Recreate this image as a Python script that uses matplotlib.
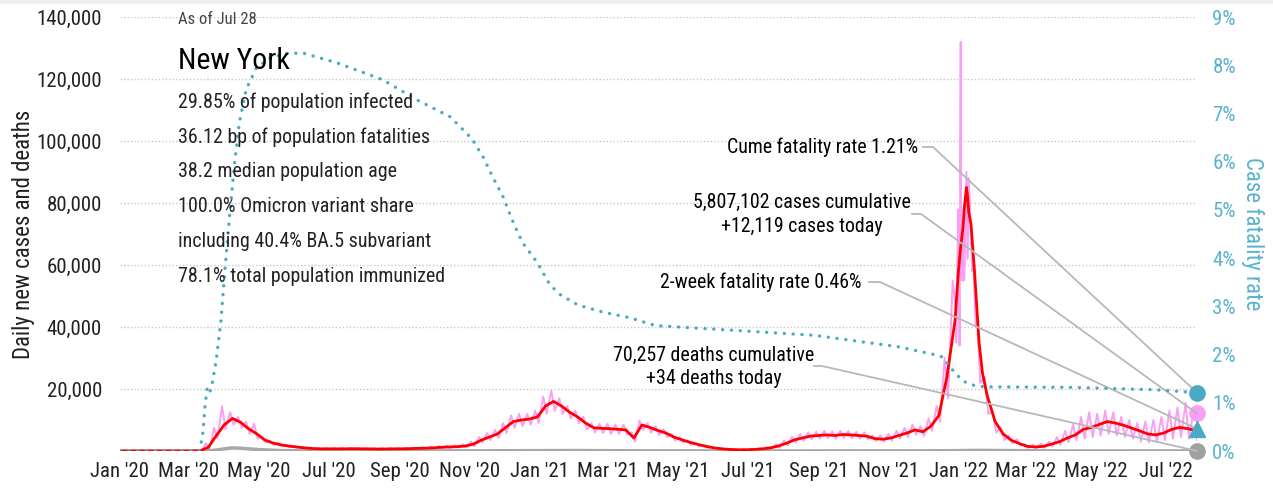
import numpy as np
import pandas as pd
import matplotlib
matplotlib.use("Agg")
import matplotlib.pyplot as plt
import matplotlib.dates as mdates
from matplotlib import font_manager as fm
from matplotlib.ticker import FuncFormatter, MultipleLocator
from matplotlib.lines import Line2D
from matplotlib.patches import Rectangle
from matplotlib.transforms import IdentityTransform

# fuente angosta: la primera que este instalada
instaladas = {f.name for f in fm.fontManager.ttflist}
candidatas = ['Roboto Condensed', 'Archivo Narrow', 'PT Sans Narrow', 'Liberation Sans Narrow',
              'IBM Plex Sans Condensed', 'Open Sans Condensed']
fuente = next((c for c in candidatas if c in instaladas), 'DejaVu Sans')
plt.rcParams['font.family'] = [fuente, 'DejaVu Sans']

# fechas semanales desde el 1 de enero de 2020
inicio = pd.Timestamp('2020-01-01')
semanas = pd.date_range(inicio, periods=135, freq='7D')

# promedio de 7 dias de casos (miles), uno por semana
casos_prom = [0, 0, 0, 0, 0, 0, 0, 0, 0, 0,
              0.1, 1.2, 5.0, 8.5, 10.5, 9.3, 7.2, 5.6, 3.6, 2.6, 2.0, 1.6, 1.3, 1.0, 0.8, 0.7,
              0.7, 0.7, 0.7, 0.75, 0.7, 0.7, 0.65, 0.65, 0.7, 0.7, 0.75, 0.85, 0.9,
              1.0, 1.2, 1.3, 1.4, 1.6, 2.2, 3.5, 4.5, 5.5, 7.5, 9.5, 10.0, 10.3, 11.0,
              14.5, 16.0, 14.5, 12.5, 11.0, 9.0, 7.5, 7.3, 7.2, 7.0, 6.8,
              4.2, 8.4, 7.6, 6.6, 5.8, 4.5, 3.6, 2.8, 2.1, 1.5, 1.0, 0.7, 0.5, 0.4, 0.4, 0.5, 0.7, 1.0,
              1.6, 2.5, 3.6, 4.2, 4.8, 5.0, 5.2, 5.0, 5.3, 5.2, 5.0, 4.8, 4.0, 3.8, 4.2, 5.0, 5.8, 6.8, 6.2,
              8.0, 11.5, 24.0, 42.0, 72.0, 73.0, 35.0, 18.0, 9.5, 5.5,
              3.5, 2.4, 1.5, 1.3, 1.5, 2.2, 3.0, 4.2, 5.2, 7.0, 7.6, 8.6, 9.5, 9.0, 8.3, 7.4,
              6.5, 5.5, 5.2, 5.8, 7.0, 7.6, 7.2, 6.6]

# puntos extra del pico de enero 2022 (dias desde inicio, miles)
pico_dia = [731, 733, 736, 738, 739, 740, 745, 752]
pico_prom = [58, 66, 78, 85, 82, 77, 58, 25]

# casos diarios: maximo y minimo de cada semana (miles)
diario_alto = [0, 0, 0, 0, 0, 0, 0, 0, 0, 0,
               0.3, 2.5, 7.5, 14.5, 12.5, 11.0, 9.5, 8.8, 4.5, 3.3, 2.6, 2.0, 1.6, 1.3, 1.1, 0.9,
               0.9, 0.9, 0.95, 0.9, 0.9, 0.85, 0.85, 0.9, 0.95, 1.0, 1.0, 1.1, 1.2,
               1.4, 1.6, 1.7, 1.8, 2.2, 3.0, 4.5, 5.8, 6.8, 9.0, 11.5, 12.0, 12.0, 13.0,
               17.5, 19.5, 17.0, 14.5, 13.0, 11.0, 9.0, 8.8, 8.8, 8.5, 8.5,
               6.0, 9.8, 9.0, 8.0, 7.0, 5.5, 4.5, 3.5, 2.6, 1.9, 1.3, 0.9, 0.7, 0.55, 0.55, 0.7, 0.9, 1.3,
               2.2, 3.4, 4.6, 5.5, 6.0, 6.2, 6.5, 6.3, 6.5, 6.4, 6.2, 6.0, 5.0, 5.0, 5.5, 6.5, 7.5, 8.5, 8.0,
               10.5, 14.5, 30.0, 55.0, 90.0, 88.0, 45.0, 24.0, 12.5, 7.5,
               5.0, 3.8, 2.2, 2.0, 2.3, 3.0, 4.5, 6.5, 8.5, 11.0, 12.5, 12.0, 13.0, 12.5, 11.0, 10.0,
               9.0, 9.5, 10.0, 11.0, 13.0, 14.0, 15.5, 13.0]
diario_bajo = [0, 0, 0, 0, 0, 0, 0, 0, 0, 0,
               0.0, 0.5, 4.0, 7.0, 8.5, 7.5, 5.5, 4.0, 2.8, 2.0, 1.5, 1.2, 1.0, 0.8, 0.6, 0.55,
               0.5, 0.55, 0.55, 0.5, 0.5, 0.5, 0.45, 0.5, 0.5, 0.55, 0.6, 0.65, 0.7,
               0.8, 0.9, 1.0, 1.1, 1.2, 1.6, 2.7, 3.5, 4.2, 5.8, 7.5, 8.0, 8.5, 9.0,
               12.0, 13.0, 12.0, 10.5, 9.0, 7.0, 6.0, 5.8, 5.6, 5.5, 5.3,
               3.0, 6.8, 6.0, 5.2, 4.5, 3.4, 2.7, 2.0, 1.5, 1.1, 0.7, 0.5, 0.35, 0.3, 0.3, 0.35, 0.5, 0.7,
               1.1, 1.8, 2.7, 3.3, 3.8, 4.0, 4.2, 4.0, 4.2, 4.1, 4.0, 3.8, 3.2, 3.0, 3.3, 4.0, 4.5, 5.3, 4.8,
               6.5, 9.5, 17.0, 35.0, 55.0, 58.0, 22.0, 12.0, 6.0, 3.5,
               2.5, 1.8, 1.0, 0.9, 1.0, 1.5, 2.0, 2.8, 3.5, 4.0, 4.5, 5.0, 5.5, 5.0, 4.5, 4.0,
               3.0, 2.8, 3.0, 3.5, 4.0, 4.5, 4.0, 3.5]
# picos diarios de enero 2022 (dias desde inicio, miles)
salto_dia = [729, 730, 731, 732, 733, 734, 736, 738, 739, 741, 744, 746]
salto_val = [45, 60, 78, 34, 132, 55, 70, 90, 62, 80, 60, 40]

# muertes diarias (miles), una por semana
muertes = [0, 0, 0, 0, 0, 0, 0, 0, 0, 0, 0,
           0.05, 0.3, 0.7, 1.0, 0.9, 0.7, 0.5, 0.35, 0.25, 0.15, 0.1, 0.08, 0.06, 0.05, 0.04,
           0.03, 0.03, 0.03, 0.03, 0.03, 0.03, 0.03, 0.03, 0.03, 0.03, 0.03, 0.03, 0.03,
           0.03, 0.03, 0.03, 0.03, 0.04, 0.05, 0.06, 0.07, 0.08, 0.1, 0.12, 0.13, 0.14, 0.15,
           0.17, 0.18, 0.18, 0.17, 0.15, 0.13, 0.11, 0.1, 0.09, 0.08, 0.07,
           0.06, 0.06, 0.06, 0.06, 0.05, 0.05, 0.04, 0.03, 0.03, 0.02, 0.02, 0.01, 0.01, 0.01, 0.01, 0.01, 0.01, 0.01,
           0.02, 0.02, 0.03, 0.03, 0.04, 0.04, 0.04, 0.04, 0.04, 0.04, 0.04, 0.04, 0.03, 0.03, 0.03, 0.04, 0.04, 0.05, 0.05,
           0.06, 0.07, 0.08, 0.1, 0.15, 0.18, 0.2, 0.18, 0.15, 0.12,
           0.09, 0.07, 0.05, 0.04, 0.03, 0.02, 0.02, 0.02, 0.02, 0.02, 0.03, 0.03, 0.03, 0.03, 0.03, 0.03,
           0.03, 0.03, 0.03, 0.03, 0.03, 0.03, 0.03, 0.03]

# tasa de letalidad acumulada (%), dias desde inicio
cfr_dia = [0, 69, 72, 74, 76, 78, 80, 84, 88, 92, 96, 100, 104, 110, 119, 131, 146, 160,
           189, 229, 259, 288, 307, 317, 325, 334, 343, 351, 364, 375, 384, 399, 421, 445,
           467, 530, 605, 679, 710, 717, 722, 728, 735, 743, 754, 829, 903, 939]
cfr_pct = [0, 0, 0.3, 0.9, 1.3, 1.2, 1.35, 1.9, 2.7, 3.9, 5.0, 6.0, 6.8, 7.5, 7.95, 8.15, 8.25, 8.25,
           8.05, 7.7, 7.28, 6.93, 6.47, 6.08, 5.68, 5.27, 4.73, 4.32, 3.9, 3.44, 3.24, 3.03, 2.88, 2.76,
           2.6, 2.51, 2.4, 2.16, 2.0, 1.95, 1.8, 1.62, 1.45, 1.37, 1.33, 1.32, 1.27, 1.21]

fecha_fin = pd.Timestamp('2022-07-28')
casos_hoy = 12119
muertes_hoy = 34
cfr_total = 1.21
cfr_2sem = 0.46

resumen = ["29.85% of population infected",
           "36.12 bp of population fatalities",
           "38.2 median population age",
           "100.0% Omicron variant share",
           "including 40.4% BA.5 subvariant",
           "78.1% total population immunized"]

# armar series
dias_sem = (semanas - inicio).days.values
prom = pd.Series(list(np.array(casos_prom) * 1000) + [v * 1000 for v in pico_prom],
                 index=list(dias_sem) + pico_dia).sort_index()
diario = pd.Series(list(np.array(diario_alto) * 1000) + list(np.array(diario_bajo) * 1000)
                   + [v * 1000 for v in salto_val] + [casos_hoy],
                   index=list(dias_sem - 2) + list(dias_sem + 1) + salto_dia + [939]).sort_index()
diario = diario[diario.index >= 0]

def a_fecha(d):
    return inicio + pd.to_timedelta(np.asarray(d), unit='D')

W, H = 1273, 491
fig = plt.figure(figsize=(W / 100, H / 100), dpi=100)
fig.patches.append(Rectangle((0, 1 - 3 / H), 1, 3 / H, transform=fig.transFigure,
                             color='#eeeeee', zorder=0))
ax = fig.add_axes([120 / W, 1 - 451 / H, 1077 / W, 434 / H])
ax2 = ax.twinx()

gris = '#a8a8a8'
turquesa = '#4aa9c4'
rosa = '#fa9ef6'

ax.plot(a_fecha(diario.index), diario.values, color=rosa, lw=1.4, zorder=2)
ax.plot(a_fecha(dias_sem), np.array(muertes) * 1000, color=gris, lw=2.5, zorder=3)
ax.plot(a_fecha(prom.index), prom.values, color='#ff0000', lw=2, zorder=4)
ax2.plot(a_fecha(cfr_dia), cfr_pct, color=turquesa, lw=2.4,
         linestyle=(0, (0.05, 2.6)), dash_capstyle='round', zorder=3)

# marcadores finales
ax.plot([fecha_fin], [casos_hoy], 'o', color=rosa, ms=11, clip_on=False, zorder=6)
ax.plot([fecha_fin], [muertes_hoy], 'o', color='#a0a0a0', ms=11, clip_on=False, zorder=6)
ax2.plot([fecha_fin], [cfr_total], 'o', color=turquesa, ms=11, clip_on=False, zorder=6)
ax2.plot([fecha_fin], [cfr_2sem], '^', color=turquesa, ms=11, clip_on=False, zorder=6)

ax.set_xlim(inicio, fecha_fin)
ax.set_ylim(0, 140000)
ax2.set_ylim(0, 9)

ax.yaxis.set_major_locator(MultipleLocator(20000))
ax.yaxis.set_major_formatter(FuncFormatter(lambda v, p: '' if v == 0 else f'{v:,.0f}'))
ax2.yaxis.set_major_locator(MultipleLocator(1))
ax2.yaxis.set_major_formatter(FuncFormatter(lambda v, p: f'{v:.0f}%'))
ax.xaxis.set_major_locator(mdates.MonthLocator(bymonth=[1, 3, 5, 7, 9, 11]))
ax.xaxis.set_major_formatter(mdates.DateFormatter("%b '%y"))

ax.grid(axis='y', color='#c8c8c8', lw=1, linestyle=(0, (1, 1.5)))
for a in (ax, ax2):
    for s in a.spines.values():
        s.set_visible(False)
ax.tick_params(axis='y', length=0, pad=13, labelsize=15, labelcolor='#222222')
ax.tick_params(axis='x', length=0, pad=8, labelsize=15, labelcolor='#222222')
ax2.tick_params(axis='y', length=0, pad=11, labelsize=15, labelcolor='#5ab3cc')

ax.set_ylabel('Daily new cases and deaths', fontsize=16.5, color='#222222', labelpad=1)
ax2.set_ylabel('Case fatality rate', fontsize=16.5, color='#5ab3cc', rotation=270, labelpad=20)

# bloque de texto
fig.text(178 / W, 1 - 20 / H, 'As of Jul 28', fontsize=12, color='#444444', va='center')
fig.text(178 / W, 1 - 61 / H, 'New York', fontsize=21.5, color='black', va='center')
for i, linea in enumerate(resumen):
    fig.text(178 / W, 1 - (102 + 34.8 * i) / H, linea, fontsize=14.4, color='#222222', va='center')

# anotaciones con lineas guia
def px(x, y):
    return x, H - y

def guia(a, fecha, valor, x0, x1, y):
    xm, ym = a.transData.transform((mdates.date2num(fecha), valor))
    xs = [px(x0, y)[0], px(x1, y)[0], xm]
    ys = [px(x0, y)[1], px(x1, y)[1], ym]
    ax2.add_line(Line2D(xs, ys, transform=IdentityTransform(), color='#b8b8b8',
                        lw=1.3, clip_on=False, zorder=1))

tam = 14.3
fig.text(918 / W, 1 - 147 / H, 'Cume fatality rate 1.21%', fontsize=tam, ha='right', va='center')
guia(ax2, fecha_fin, cfr_total, 923, 933, 147)

fig.text(802 / W, 1 - 202 / H, '5,807,102 cases cumulative', fontsize=tam, ha='center', va='center')
fig.text(802 / W, 1 - 227 / H, '+12,119 cases today', fontsize=tam, ha='center', va='center')
guia(ax, fecha_fin, casos_hoy, 912, 921, 214)

fig.text(861 / W, 1 - 282 / H, '2-week fatality rate 0.46%', fontsize=tam, ha='right', va='center')
guia(ax2, fecha_fin, cfr_2sem, 869, 880, 282)

fig.text(714 / W, 1 - 355 / H, '70,257 deaths cumulative', fontsize=tam, ha='center', va='center')
fig.text(714 / W, 1 - 378 / H, '+34 deaths today', fontsize=tam, ha='center', va='center')
guia(ax, fecha_fin, muertes_hoy, 814, 822, 366)

fig.savefig('out.png', dpi=100)
